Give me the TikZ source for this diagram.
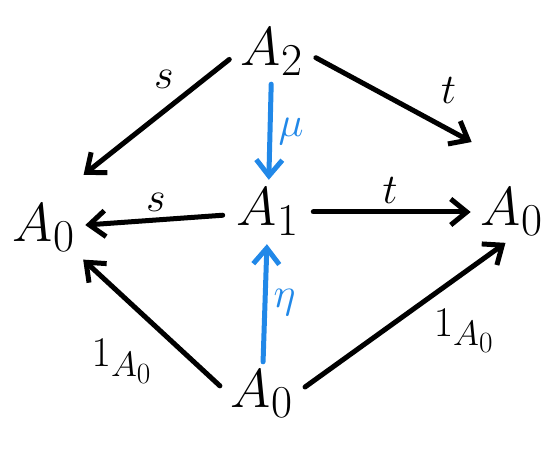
\documentclass[tikz,border=0pt]{standalone}
\usepackage{amsmath}
\usetikzlibrary{arrows.meta, positioning}
\definecolor{unitblue}{RGB}{33,136,232}
\newcommand{\objtext}[1]{\scalebox{2.2}{\Huge$#1$}}
\newcommand{\labtext}[1]{\scalebox{1.7}{\Huge$#1$}}

\begin{document}
\begin{tikzpicture}[x=1pt, y=-1pt,
  obj/.style={inner sep=2pt},
  lab/.style={inner sep=6pt},
  map/.style={-{Straight Barb[length=16pt,width=26pt]}, line width=5pt, line cap=round, shorten >=8pt, shorten <=12pt},
  unitmap/.style={map, draw=unitblue, shorten <=6pt, shorten >=6pt}]
\useasboundingbox (0,0) rectangle (558,454);

% objects
\node[obj] (Atwo) at (272,52) {\objtext{A_2}};
\node[obj] (Aone) at (268,212) {\objtext{A_1}};
\node[obj] (Azero) at (262,394) {\objtext{A_0}};
\node[obj] (Aleft) at (44,228) {\objtext{A_0}};
\node[obj] (Aright) at (512,212) {\objtext{A_0}};

% source and target
\draw[map] (Atwo.west) -- node[lab, above left, pos=0.35] {\labtext{s}} ([yshift=22pt]Aleft.north east);
\draw[map] (Atwo.east) -- node[lab, above right, pos=0.7, inner sep=12pt] {\labtext{t}} ([yshift=40pt]Aright.north west);
\draw[map] (Aone) -- node[lab, above] {\labtext{s}} (Aleft);
\draw[map] (Aone) -- node[lab, above] {\labtext{t}} (Aright);

% composition and unit
\draw[unitmap] (Atwo) -- node[lab, right, text=unitblue] {\labtext{\mu}} (Aone);
\draw[unitmap] (Azero) -- node[lab, right, text=unitblue] {\labtext{\eta}} (Aone);

% identities
\draw[map] (Azero.west) -- node[lab, below left, pos=0.45] {\labtext{1_{A_0}}} (Aleft.south east);
\draw[map] (Azero.east) -- node[lab, below right, pos=0.6] {\labtext{1_{A_0}}} (Aright.south);
\end{tikzpicture}
\end{document}
